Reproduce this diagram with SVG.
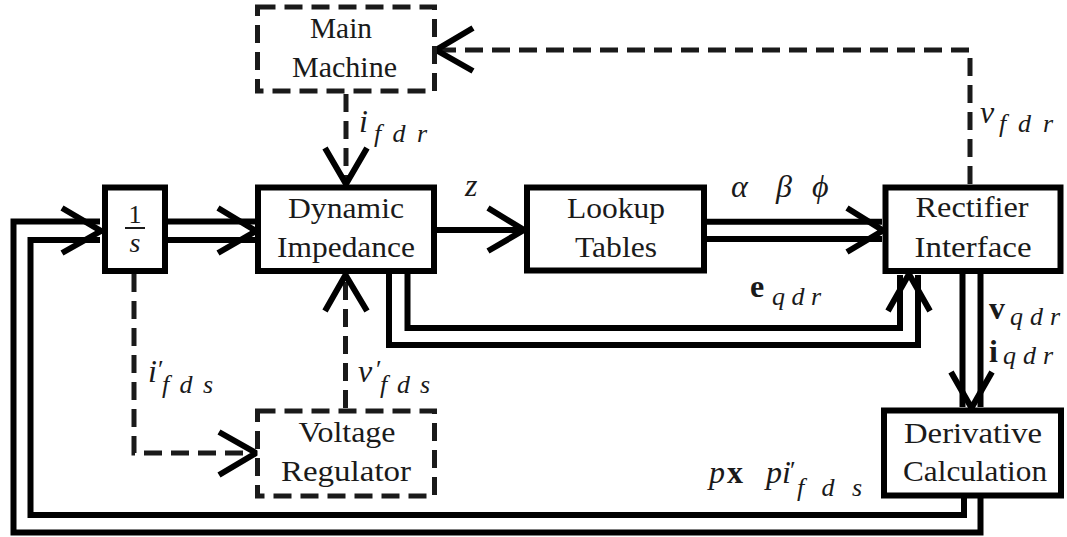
<svg xmlns="http://www.w3.org/2000/svg" width="1067" height="537" viewBox="0 0 1067 537">
<style>
.box{fill:#fff;stroke:#000;stroke-width:6}
.dbox{fill:#fff;stroke:#1a1a1a;stroke-width:5;stroke-dasharray:18 9}
.ln{fill:none;stroke:#000;stroke-width:6;stroke-linejoin:miter}
.dl{fill:none;stroke:#1a1a1a;stroke-width:5;stroke-dasharray:18 9}
.arr{fill:none;stroke:#000;stroke-width:6;stroke-linejoin:miter}
text{font-family:'Liberation Serif','Times New Roman',serif;fill:#1a1a1a}
.lbl{font-size:29px;text-anchor:middle}
.m{font-style:italic;font-size:32px}
.mb{font-weight:bold;font-size:32px}
.s{font-style:italic;font-size:26px}
.pr{font-size:26px}
</style>
<g id="connectors">
<path class="ln" d="M980.5 498 V532.5 H13.5 V221.5 H100"/>
<path class="ln" d="M964 498 V515 H30.5 V240 H100"/>
<polyline class="arr" points="62,208 101,231 62,253"/>
<path class="ln" d="M168 221.5 H255 M168 240 H255"/>
<polyline class="arr" points="218,208 256,231 218,253"/>
<path class="ln" d="M434 230 H524"/>
<polyline class="arr" points="488,208 524,230 488,251"/>
<path class="ln" d="M707 221.7 H882 M707 239 H882"/>
<polyline class="arr" points="847,208 883,230.5 847,252"/>
<path class="ln" d="M389 274 V345 H918 V275"/>
<path class="ln" d="M407.5 274 V328 H900 V275"/>
<polyline class="arr" points="888,311 909,274 930,311"/>
<path class="ln" d="M962.5 274 V407 M980.5 274 V407"/>
<polyline class="arr" points="951,372 971.5,408 992,372"/>
<path class="dl" d="M346 94 V184"/>
<polyline class="arr" points="325,148 346,184 367,148"/>
<path class="dl" d="M970 184 V50 H437"/>
<polyline class="arr" points="473,28 436,50 473,71"/>
<path class="dl" d="M134 274 V453 H255"/>
<polyline class="arr" points="219,432 256,453 219,475"/>
<path class="dl" d="M345.5 408 V274"/>
<polyline class="arr" points="325,311 345.5,275 367,311"/>
</g>
<g id="integrator">
<rect class="box" x="105" y="187.5" width="60" height="83.5"/>
<text class="lbl" x="135" y="223" style="font-size:26px">1</text>
<line x1="125" y1="228" x2="145" y2="228" stroke="#1a1a1a" stroke-width="2"/>
<text class="lbl" x="135" y="252" font-style="italic" style="font-size:28px">s</text>
</g>
<g id="dynamic">
<rect class="box" x="258" y="187.5" width="176" height="83.5"/>
<text class="lbl" x="346" y="218" textLength="116" lengthAdjust="spacingAndGlyphs">Dynamic</text>
<text class="lbl" x="346" y="257" textLength="138" lengthAdjust="spacingAndGlyphs">Impedance</text>
</g>
<g id="lookup">
<rect class="box" x="527" y="187.5" width="177" height="83"/>
<text class="lbl" x="616" y="218" textLength="98" lengthAdjust="spacingAndGlyphs">Lookup</text>
<text class="lbl" x="616" y="257" textLength="82" lengthAdjust="spacingAndGlyphs">Tables</text>
</g>
<g id="rectifier">
<rect class="box" x="885.5" y="187.5" width="175" height="83.5"/>
<text class="lbl" x="972" y="217" textLength="113" lengthAdjust="spacingAndGlyphs">Rectifier</text>
<text class="lbl" x="973" y="257" textLength="117" lengthAdjust="spacingAndGlyphs">Interface</text>
</g>
<g id="derivative">
<rect class="box" x="884" y="410.5" width="177" height="85"/>
<text class="lbl" x="973" y="443" textLength="138" lengthAdjust="spacingAndGlyphs">Derivative</text>
<text class="lbl" x="975" y="481" textLength="144" lengthAdjust="spacingAndGlyphs">Calculation</text>
</g>
<g id="mainmachine">
<rect class="dbox" x="257.5" y="7" width="177" height="84"/>
<text class="lbl" x="341" y="38" textLength="62" lengthAdjust="spacingAndGlyphs">Main</text>
<text class="lbl" x="344.5" y="77" textLength="105" lengthAdjust="spacingAndGlyphs">Machine</text>
</g>
<g id="voltageregulator">
<rect class="dbox" x="257.5" y="411" width="177" height="85"/>
<text class="lbl" x="347" y="442" textLength="97" lengthAdjust="spacingAndGlyphs">Voltage</text>
<text class="lbl" x="346" y="481" textLength="130" lengthAdjust="spacingAndGlyphs">Regulator</text>
</g>
<g id="labels">
<text class="m" x="465" y="196">z</text>
<text class="m" x="731" y="197">α</text>
<text class="m" x="776" y="197">β</text>
<text class="m" x="812" y="197">ϕ</text>
<text class="m" x="359" y="132">i</text>
<text class="s" x="374" y="142" textLength="53" lengthAdjust="spacing">fdr</text>
<text class="m" x="980" y="123">v</text>
<text class="s" x="999" y="132" textLength="54" lengthAdjust="spacing">fdr</text>
<text class="mb" x="750" y="297">e</text>
<text class="s" x="772" y="305" textLength="49" lengthAdjust="spacing">qdr</text>
<text class="mb" x="989" y="319">v</text>
<text class="s" x="1010" y="325" textLength="50" lengthAdjust="spacing">qdr</text>
<text class="mb" x="989" y="362">i</text>
<text class="s" x="1003" y="364" textLength="50" lengthAdjust="spacing">qdr</text>
<text class="m" x="148" y="382">i</text>
<text class="pr" x="158" y="378">′</text>
<text class="s" x="162" y="393" textLength="51" lengthAdjust="spacing">fds</text>
<text class="m" x="358" y="382">v</text>
<text class="pr" x="376" y="378">′</text>
<text class="s" x="380" y="393" textLength="50" lengthAdjust="spacing">fds</text>
<text class="m" x="709" y="483">p</text>
<text class="mb" x="727" y="483">x</text>
<text class="m" x="766" y="483">pi</text>
<text class="pr" x="790" y="479">′</text>
<text class="s" x="797" y="496" textLength="65" lengthAdjust="spacing">fds</text>
</g>
</svg>
